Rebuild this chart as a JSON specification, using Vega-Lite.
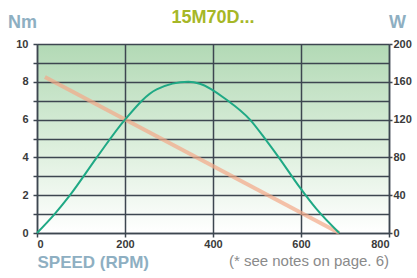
{
  "$schema": "https://vega.github.io/schema/vega-lite/v6.json",
  "autosize": "none",
  "width": 352,
  "height": 189,
  "padding": {"left": 37, "top": 44, "right": 28, "bottom": 45},
  "background": "white",
  "view": {
    "stroke": null,
    "fill": {"gradient": "linear", "x1": 0, "y1": 0, "x2": 0, "y2": 1,
      "stops": [{"offset": 0, "color": "#b2d9b5"}, {"offset": 0.55, "color": "#ddefdd"}, {"offset": 1, "color": "#ffffff"}]}
  },
  "title": {
    "text": "15M70D...",
    "color": "#a6b727",
    "fontSize": 18,
    "fontWeight": "bold",
    "font": "Liberation Sans",
    "anchor": "middle",
    "offset": -14
  },
  "config": {
    "axis": {
      "labelFont": "Liberation Sans",
      "labelFontWeight": "bold",
      "labelFontSize": 11,
      "labelColor": "#3a3a3a",
      "domainColor": "#3d4650",
      "domainWidth": 1.5,
      "tickColor": "#3d4650",
      "tickWidth": 1.5,
      "gridColor": "#3d4650",
      "gridWidth": 1.5,
      "gridOpacity": 1,
      "titleFont": "Liberation Sans",
      "titleFontWeight": "bold",
      "titleColor": "#8eafc2"
    }
  },
  "layer": [
    {
      "data": {"values": [
        {"rpm": 18, "torque": 8.25},
        {"rpm": 687, "torque": 0}
      ]},
      "mark": {"type": "line", "color": "#f4a888", "strokeWidth": 4, "opacity": 0.7, "clip": false},
      "encoding": {
        "x": {"field": "rpm", "type": "quantitative",
          "scale": {"domain": [0, 800]},
          "axis": {"values": [0, 200, 400, 600, 800], "grid": true, "tickSize": 4, "labelPadding": 1,
            "title": "SPEED (RPM)", "titleFontSize": 17, "titleAnchor": "start", "titleAlign": "left",
            "titleX": 0, "titleY": 29, "titleBaseline": "middle"}},
        "y": {"field": "torque", "type": "quantitative",
          "scale": {"domain": [0, 10]},
          "axis": {"orient": "left", "values": [0,1,2,3,4,5,6,7,8,9,10], "grid": true,
            "labelExpr": "datum.value % 2 == 0 ? datum.label : ''",
            "tickSize": 4, "labelPadding": 5,
            "title": "Nm", "titleFontSize": 18, "titleAngle": 0, "titleAlign": "center",
            "titleBaseline": "middle", "titleX": -15, "titleY": -22}}
      }
    },
    {
      "data": {"values": [
        {"rpm": 0, "power": 0},
        {"rpm": 40, "power": 20},
        {"rpm": 75, "power": 40},
        {"rpm": 136, "power": 80},
        {"rpm": 200, "power": 120},
        {"rpm": 272, "power": 152},
        {"rpm": 344, "power": 160},
        {"rpm": 370, "power": 158},
        {"rpm": 431, "power": 141},
        {"rpm": 484, "power": 120},
        {"rpm": 521, "power": 98},
        {"rpm": 551, "power": 79},
        {"rpm": 596, "power": 49},
        {"rpm": 634, "power": 26},
        {"rpm": 687, "power": 0}
      ]},
      "mark": {"type": "line", "color": "#1fa985", "strokeWidth": 2, "interpolate": "monotone"},
      "encoding": {
        "x": {"field": "rpm", "type": "quantitative"},
        "y": {"field": "power", "type": "quantitative",
          "scale": {"domain": [0, 200]},
          "axis": {"orient": "right", "values": [0, 40, 80, 120, 160, 200], "grid": false,
            "tickSize": 3, "labelPadding": 1,
            "title": "W", "titleFontSize": 18, "titleAngle": 0, "titleAlign": "center",
            "titleBaseline": "middle", "titleX": 8, "titleY": -22}}
      }
    },
    {
      "data": {"values": [{"note": "(* see notes on page. 6)"}]},
      "mark": {"type": "text", "align": "right", "baseline": "middle", "font": "Liberation Sans",
        "fontSize": 15, "color": "#8a8a8a", "clip": false},
      "encoding": {
        "text": {"field": "note"},
        "x": {"datum": 800, "type": "quantitative"},
        "y": {"datum": -1.5, "type": "quantitative", "scale": {"domain": [0, 10]}, "axis": null}
      }
    }
  ],
  "resolve": {"scale": {"y": "independent"}}
}
